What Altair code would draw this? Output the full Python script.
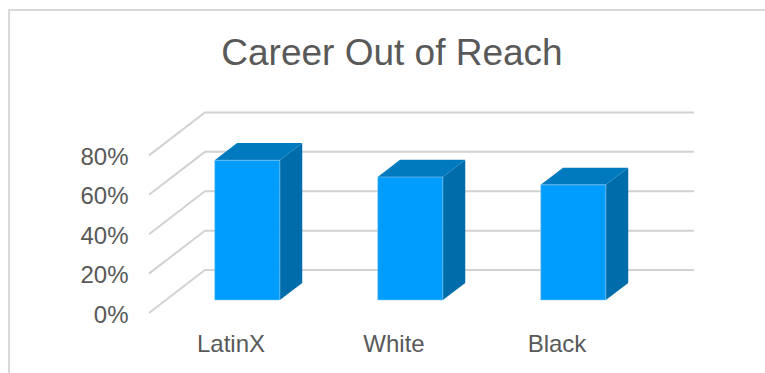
import json
import pandas as pd
import altair as alt

# Survey shares per group, in percent
categories = ["LatinX", "White", "Black"]
values = [71, 62.5, 58.5]
grid_levels = [0, 20, 40, 60, 80]

# Oblique projection: depth 0 is the front of the floor, depth 1 the back wall
DEPTH_X = 0.343   # category units per full depth
DEPTH_Y = 21.8    # percent units per full depth
BAR_FRONT = 0.3
BAR_BACK = 0.7
BAR_WIDTH = 0.4
N = len(categories)

PLOT_W = 489
PLOT_H = 313
LEFT = 149

GREY = "#595959"
FONT = "Liberation Sans"


def project(u, depth, v):
    return u + depth * DEPTH_X, v + depth * DEPTH_Y


grid_rows = []
for level in grid_levels:
    for u, depth in [(0, 0), (0, 1), (N, 1)]:
        x, y = project(u, depth, level)
        grid_rows.append({"level": level, "x": x, "y": y})

front_rows, side_rows, top_rows = [], [], []
for i, (name, val) in enumerate(zip(categories, values)):
    left = i + 0.5 - BAR_WIDTH / 2
    right = i + 0.5 + BAR_WIDTH / 2

    x0, y0 = project(left, BAR_FRONT, 0)
    x1, y1 = project(right, BAR_FRONT, val)
    front_rows.append({"bar": name, "x": x0, "x2": x1, "y": y0, "y2": y1})

    # Right face: two vertical edges joined by a sloped area
    for depth in (BAR_FRONT, BAR_BACK):
        x, lo = project(right, depth, 0)
        _, hi = project(right, depth, val)
        side_rows.append({"bar": name, "x": x, "y": lo, "y2": hi})

    # Top face as an area between its lower and upper outline
    xa, ya = project(left, BAR_FRONT, val)
    xb, yb = project(left, BAR_BACK, val)
    xc, _ = project(right, BAR_FRONT, val)
    xd, _ = project(right, BAR_BACK, val)
    top_rows += [
        {"bar": name, "x": xa, "y": ya, "y2": ya},
        {"bar": name, "x": xb, "y": ya, "y2": yb},
        {"bar": name, "x": xc, "y": ya, "y2": yb},
        {"bar": name, "x": xd, "y": yb, "y2": yb},
    ]

x_scale = alt.Scale(domain=[0, N], nice=False, zero=False)
y_scale = alt.Scale(domain=[0, PLOT_H / 1.97], nice=False, zero=False)

x_axis = alt.Axis(
    values=[i + 0.5 for i in range(N)],
    labelExpr=f"{json.dumps(categories)}[floor(datum.value)]",
    title=None, domain=False, ticks=False, grid=False,
    labelFont=FONT, labelFontSize=24, labelColor=GREY, labelPadding=19,
)
y_axis = alt.Axis(
    values=grid_levels, format=".0f", labelExpr="datum.label + '%'",
    title=None, domain=False, ticks=False, grid=False,
    labelFont=FONT, labelFontSize=24, labelColor=GREY, labelPadding=21,
    labelOffset=2,
)

x_enc = alt.X("x:Q", scale=x_scale, axis=x_axis)
y_enc = alt.Y("y:Q", scale=y_scale, axis=y_axis)

grid = (
    alt.Chart(pd.DataFrame(grid_rows))
    .mark_line(color="#d2d2d2", strokeWidth=2, clip=False)
    .encode(x=x_enc, y=y_enc, detail="level:N", order=alt.Order("x:Q"))
)

side = (
    alt.Chart(pd.DataFrame(side_rows))
    .mark_area(color="#006ca9")
    .encode(x=x_enc, y=y_enc, y2="y2:Q", detail="bar:N")
)
top = (
    alt.Chart(pd.DataFrame(top_rows))
    .mark_area(color="#007abf")
    .encode(x=x_enc, y=y_enc, y2="y2:Q", detail="bar:N")
)
front = (
    alt.Chart(pd.DataFrame(front_rows))
    .mark_rect(color="#009dff", stroke="#a9cfe6", strokeWidth=0.5)
    .encode(x=x_enc, x2="x2:Q", y=y_enc, y2="y2:Q")
)

# Chart frame: only the top and left edges are visible
frame_top = alt.Chart(pd.DataFrame({"k": [0]})).mark_rule(color="#d9d9d9", strokeWidth=2).encode(
    x=alt.value(8 - LEFT), x2=alt.value(765 - LEFT), y=alt.value(10)
)
frame_left = alt.Chart(pd.DataFrame({"k": [0]})).mark_rule(color="#d9d9d9", strokeWidth=2).encode(
    x=alt.value(9 - LEFT), y=alt.value(10), y2=alt.value(373)
)

title = alt.Chart(pd.DataFrame({"t": ["Career Out of Reach"]})).mark_text(
    font=FONT, fontSize=37, color=GREY, align="center", baseline="middle"
).encode(x=alt.value(392 - LEFT), y=alt.value(54), text="t:N")

chart = (
    alt.layer(frame_top, frame_left, title, grid, side, top, front)
    .properties(
        width=PLOT_W,
        height=PLOT_H,
        padding={"left": LEFT, "top": 0, "right": 765 - LEFT - PLOT_W, "bottom": 373 - PLOT_H},
        autosize=alt.AutoSizeParams(type="none"),
        background="white",
    )
    .configure_view(stroke=None)
)

chart.save("out.html", embed_options={"renderer": "svg", "actions": False})
